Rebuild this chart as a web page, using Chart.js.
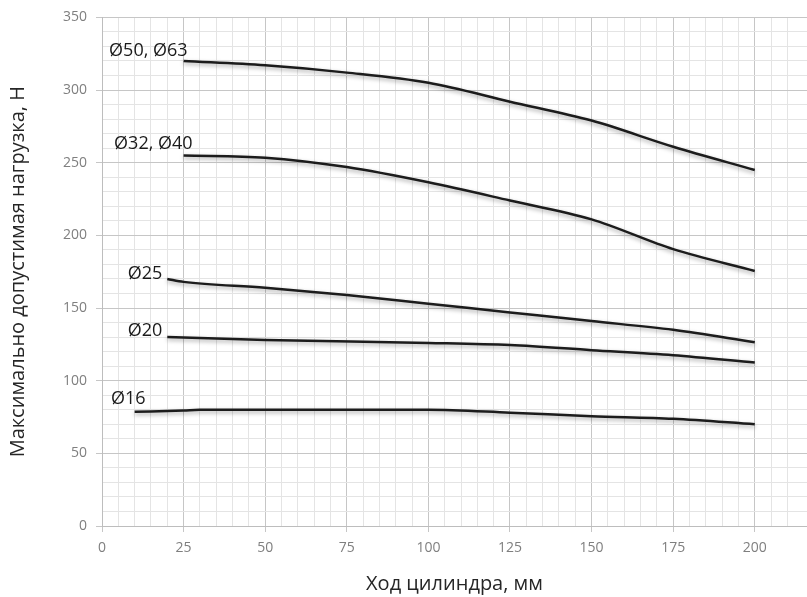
<!DOCTYPE html>
<html>
<head>
<meta charset="utf-8">
<script src="https://cdn.jsdelivr.net/npm/chart.js@4.4.0/dist/chart.umd.min.js"></script>
<style>
  html, body { margin: 0; padding: 0; background: #fff; }
  #wrap { width: 807px; height: 597px; }
</style>
</head>
<body>
<div id="wrap"><canvas id="loadChart" width="807" height="597"></canvas></div>
<script>
// Данные (ход цилиндра, мм -> нагрузка, Н)
const seriesNames = ["Ø50, Ø63", "Ø32, Ø40", "Ø25", "Ø20", "Ø16"];

const strokeD50 = [25, 50, 75, 100, 125, 150, 175, 200];
const loadD50 = [320, 317, 312, 305, 292, 279, 261, 245];

const strokeD32 = [25, 50, 75, 100, 125, 150, 175, 200];
const loadD32 = [255, 253.5, 247, 236.5, 224, 211, 190.5, 175.5];

const strokeD25 = [20, 25, 50, 75, 100, 125, 150, 175, 200];
const loadD25 = [170, 168, 164, 159, 153, 147, 141, 135, 126.5];

const strokeD20 = [20, 50, 100, 125, 150, 175, 200];
const loadD20 = [130, 128, 126, 124.5, 121, 117.5, 112.5];

const strokeD16 = [10, 25, 30, 50, 100, 125, 150, 175, 200];
const loadD16 = [78.6, 79.5, 80, 80, 80, 78, 75.6, 73.8, 70];

const xTicksMajor = 25;
const yTicksMajor = 50;

// смещения подписей относительно начала кривой
const labelDx = [4, 9, -5, -5, 11];
const labelDy = [-5, -6, 0, -1, -8];

function toPoints(xs, ys) {
  return xs.map((x, i) => ({ x: x, y: ys[i] }));
}

const allX = [strokeD50, strokeD32, strokeD25, strokeD20, strokeD16];
const allY = [loadD50, loadD32, loadD25, loadD20, loadD16];

const datasets = seriesNames.map((name, i) => ({
  label: name,
  data: toPoints(allX[i], allY[i]),
  borderColor: "#1c1c1c",
  borderWidth: 2.5,
  pointRadius: 0,
  fill: false,
  cubicInterpolationMode: "monotone",
}));

// тень под линиями
const shadowPlugin = {
  id: "lineShadow",
  beforeDatasetsDraw(chart) {
    const ctx = chart.ctx;
    ctx.save();
    ctx.shadowColor = "rgba(0, 0, 0, 0.35)";
    ctx.shadowBlur = 4;
    ctx.shadowOffsetY = 2;
  },
  afterDatasetsDraw(chart) {
    chart.ctx.restore();
  },
};

// подписи кривых
const labelPlugin = {
  id: "seriesLabels",
  afterDraw(chart) {
    const ctx = chart.ctx;
    ctx.save();
    ctx.font = "18px 'Open Sans'";
    ctx.fillStyle = "#1a1a1a";
    ctx.textAlign = "right";
    ctx.textBaseline = "alphabetic";
    chart.data.datasets.forEach((ds, i) => {
      const p = chart.getDatasetMeta(i).data[0];
      ctx.fillText(ds.label, p.x + labelDx[i], p.y + labelDy[i]);
    });
    ctx.restore();
  },
};

const majorGrid = "#c6c6c6";
const minorGrid = "#e4e4e4";

const ctx = document.getElementById("loadChart").getContext("2d");
new Chart(ctx, {
  type: "line",
  data: { datasets: datasets },
  options: {
    responsive: false,
    animation: false,
    layout: { padding: { top: 16, right: 0, left: 0, bottom: 0 } },
    plugins: {
      legend: { display: false },
      tooltip: { enabled: false },
    },
    scales: {
      x: {
        type: "linear",
        min: 0,
        max: 216,
        afterFit: (scale) => {
          scale.height = 71;
          scale.paddingRight = 0;
        },
        ticks: {
          stepSize: 5,
          autoSkip: false,
          maxRotation: 0,
          padding: 8,
          color: "#7f7f7f",
          font: { family: "'Open Sans'", size: 14 },
          callback: (v) => (v % xTicksMajor === 0 ? v : ""),
        },
        grid: {
          color: (c) => (c.tick && c.tick.value % xTicksMajor === 0 ? majorGrid : minorGrid),
          tickColor: (c) => (c.tick && c.tick.value % xTicksMajor === 0 ? majorGrid : "rgba(0,0,0,0)"),
          tickLength: 6,
        },
        border: { color: "#bdbdbd" },
        title: {
          display: true,
          text: "Ход цилиндра, мм",
          color: "#262626",
          font: { family: "'Open Sans'", size: 20 },
          padding: { top: 0, bottom: 1 },
        },
      },
      y: {
        min: 0,
        max: 350,
        afterFit: (scale) => { scale.width = 102; },
        ticks: {
          stepSize: 10,
          autoSkip: false,
          padding: 9,
          color: "#7f7f7f",
          font: { family: "'Open Sans'", size: 14 },
          callback: (v) => (v % yTicksMajor === 0 ? v : ""),
        },
        grid: {
          color: (c) => (c.tick && c.tick.value % yTicksMajor === 0 ? majorGrid : minorGrid),
          tickColor: (c) => (c.tick && c.tick.value % yTicksMajor === 0 ? majorGrid : "rgba(0,0,0,0)"),
          tickLength: 6,
        },
        border: { color: "#bdbdbd" },
        title: {
          display: true,
          text: "Максимально допустимая нагрузка, Н",
          color: "#262626",
          font: { family: "'Open Sans'", size: 20 },
          padding: { top: 6, bottom: 0 },
        },
      },
    },
  },
  plugins: [shadowPlugin, labelPlugin],
});
</script>
</body>
</html>
